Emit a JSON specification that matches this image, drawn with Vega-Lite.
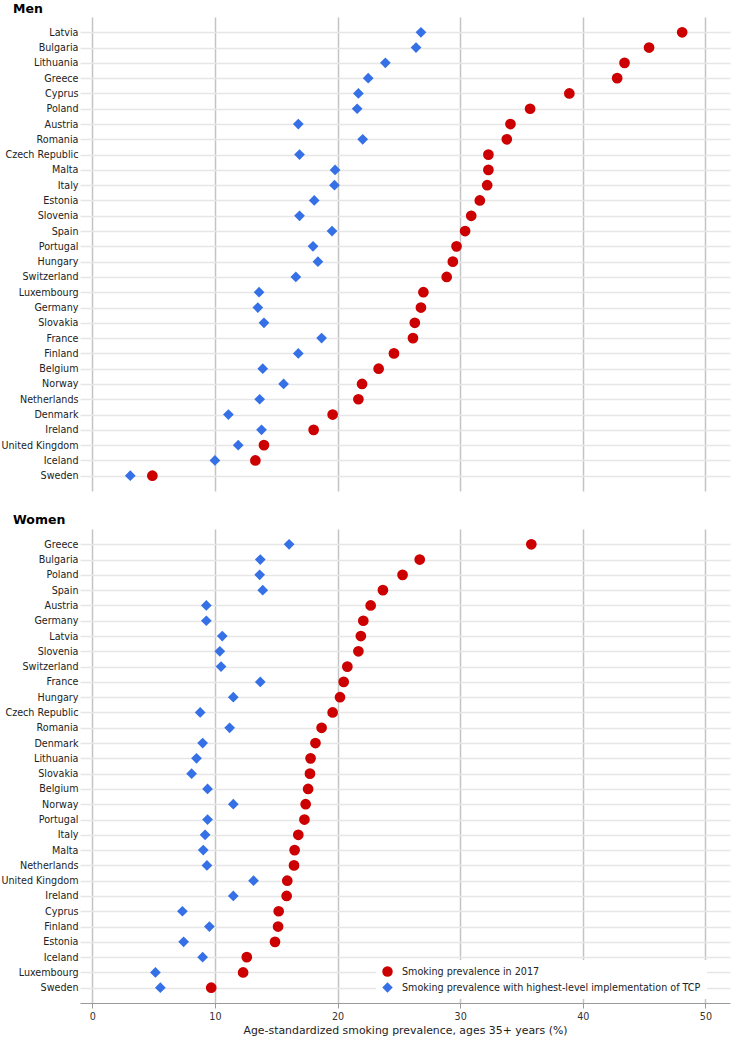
{
  "$schema": "https://vega.github.io/schema/vega-lite/v6.json",
  "padding": {"left": 0, "top": 2, "right": 2, "bottom": 0},
  "background": "white",
  "config": {
    "view": {"stroke": null},
    "font": "DejaVu Sans",
    "axis": {"labelFont": "DejaVu Sans", "titleFont": "DejaVu Sans"},
    "title": {"font": "DejaVu Sans"}
  },
  "datasets": {
    "prev": [
      {"sex": "Men", "country": "Latvia", "measure": "Smoking prevalence in 2017", "value": 48.1},
      {"sex": "Men", "country": "Bulgaria", "measure": "Smoking prevalence in 2017", "value": 45.4},
      {"sex": "Men", "country": "Lithuania", "measure": "Smoking prevalence in 2017", "value": 43.4},
      {"sex": "Men", "country": "Greece", "measure": "Smoking prevalence in 2017", "value": 42.8},
      {"sex": "Men", "country": "Cyprus", "measure": "Smoking prevalence in 2017", "value": 38.9},
      {"sex": "Men", "country": "Poland", "measure": "Smoking prevalence in 2017", "value": 35.7},
      {"sex": "Men", "country": "Austria", "measure": "Smoking prevalence in 2017", "value": 34.1},
      {"sex": "Men", "country": "Romania", "measure": "Smoking prevalence in 2017", "value": 33.8},
      {"sex": "Men", "country": "Czech Republic", "measure": "Smoking prevalence in 2017", "value": 32.3},
      {"sex": "Men", "country": "Malta", "measure": "Smoking prevalence in 2017", "value": 32.3},
      {"sex": "Men", "country": "Italy", "measure": "Smoking prevalence in 2017", "value": 32.2},
      {"sex": "Men", "country": "Estonia", "measure": "Smoking prevalence in 2017", "value": 31.6},
      {"sex": "Men", "country": "Slovenia", "measure": "Smoking prevalence in 2017", "value": 30.9},
      {"sex": "Men", "country": "Spain", "measure": "Smoking prevalence in 2017", "value": 30.4},
      {"sex": "Men", "country": "Portugal", "measure": "Smoking prevalence in 2017", "value": 29.7},
      {"sex": "Men", "country": "Hungary", "measure": "Smoking prevalence in 2017", "value": 29.4},
      {"sex": "Men", "country": "Switzerland", "measure": "Smoking prevalence in 2017", "value": 28.9},
      {"sex": "Men", "country": "Luxembourg", "measure": "Smoking prevalence in 2017", "value": 27.0},
      {"sex": "Men", "country": "Germany", "measure": "Smoking prevalence in 2017", "value": 26.8},
      {"sex": "Men", "country": "Slovakia", "measure": "Smoking prevalence in 2017", "value": 26.3},
      {"sex": "Men", "country": "France", "measure": "Smoking prevalence in 2017", "value": 26.15},
      {"sex": "Men", "country": "Finland", "measure": "Smoking prevalence in 2017", "value": 24.6},
      {"sex": "Men", "country": "Belgium", "measure": "Smoking prevalence in 2017", "value": 23.35},
      {"sex": "Men", "country": "Norway", "measure": "Smoking prevalence in 2017", "value": 22.0},
      {"sex": "Men", "country": "Netherlands", "measure": "Smoking prevalence in 2017", "value": 21.7},
      {"sex": "Men", "country": "Denmark", "measure": "Smoking prevalence in 2017", "value": 19.6},
      {"sex": "Men", "country": "Ireland", "measure": "Smoking prevalence in 2017", "value": 18.05},
      {"sex": "Men", "country": "United Kingdom", "measure": "Smoking prevalence in 2017", "value": 14.0},
      {"sex": "Men", "country": "Iceland", "measure": "Smoking prevalence in 2017", "value": 13.3},
      {"sex": "Men", "country": "Sweden", "measure": "Smoking prevalence in 2017", "value": 4.9},
      {"sex": "Men", "country": "Latvia", "measure": "Smoking prevalence with highest-level implementation of TCP", "value": 26.8},
      {"sex": "Men", "country": "Bulgaria", "measure": "Smoking prevalence with highest-level implementation of TCP", "value": 26.4},
      {"sex": "Men", "country": "Lithuania", "measure": "Smoking prevalence with highest-level implementation of TCP", "value": 23.9},
      {"sex": "Men", "country": "Greece", "measure": "Smoking prevalence with highest-level implementation of TCP", "value": 22.5},
      {"sex": "Men", "country": "Cyprus", "measure": "Smoking prevalence with highest-level implementation of TCP", "value": 21.7},
      {"sex": "Men", "country": "Poland", "measure": "Smoking prevalence with highest-level implementation of TCP", "value": 21.6},
      {"sex": "Men", "country": "Austria", "measure": "Smoking prevalence with highest-level implementation of TCP", "value": 16.8},
      {"sex": "Men", "country": "Romania", "measure": "Smoking prevalence with highest-level implementation of TCP", "value": 22.05},
      {"sex": "Men", "country": "Czech Republic", "measure": "Smoking prevalence with highest-level implementation of TCP", "value": 16.9},
      {"sex": "Men", "country": "Malta", "measure": "Smoking prevalence with highest-level implementation of TCP", "value": 19.8},
      {"sex": "Men", "country": "Italy", "measure": "Smoking prevalence with highest-level implementation of TCP", "value": 19.75},
      {"sex": "Men", "country": "Estonia", "measure": "Smoking prevalence with highest-level implementation of TCP", "value": 18.1},
      {"sex": "Men", "country": "Slovenia", "measure": "Smoking prevalence with highest-level implementation of TCP", "value": 16.9},
      {"sex": "Men", "country": "Spain", "measure": "Smoking prevalence with highest-level implementation of TCP", "value": 19.55},
      {"sex": "Men", "country": "Portugal", "measure": "Smoking prevalence with highest-level implementation of TCP", "value": 18.0},
      {"sex": "Men", "country": "Hungary", "measure": "Smoking prevalence with highest-level implementation of TCP", "value": 18.4},
      {"sex": "Men", "country": "Switzerland", "measure": "Smoking prevalence with highest-level implementation of TCP", "value": 16.6},
      {"sex": "Men", "country": "Luxembourg", "measure": "Smoking prevalence with highest-level implementation of TCP", "value": 13.6},
      {"sex": "Men", "country": "Germany", "measure": "Smoking prevalence with highest-level implementation of TCP", "value": 13.5},
      {"sex": "Men", "country": "Slovakia", "measure": "Smoking prevalence with highest-level implementation of TCP", "value": 14.0},
      {"sex": "Men", "country": "France", "measure": "Smoking prevalence with highest-level implementation of TCP", "value": 18.7},
      {"sex": "Men", "country": "Finland", "measure": "Smoking prevalence with highest-level implementation of TCP", "value": 16.8},
      {"sex": "Men", "country": "Belgium", "measure": "Smoking prevalence with highest-level implementation of TCP", "value": 13.9},
      {"sex": "Men", "country": "Norway", "measure": "Smoking prevalence with highest-level implementation of TCP", "value": 15.6},
      {"sex": "Men", "country": "Netherlands", "measure": "Smoking prevalence with highest-level implementation of TCP", "value": 13.65},
      {"sex": "Men", "country": "Denmark", "measure": "Smoking prevalence with highest-level implementation of TCP", "value": 11.1},
      {"sex": "Men", "country": "Ireland", "measure": "Smoking prevalence with highest-level implementation of TCP", "value": 13.8},
      {"sex": "Men", "country": "United Kingdom", "measure": "Smoking prevalence with highest-level implementation of TCP", "value": 11.9},
      {"sex": "Men", "country": "Iceland", "measure": "Smoking prevalence with highest-level implementation of TCP", "value": 10.0},
      {"sex": "Men", "country": "Sweden", "measure": "Smoking prevalence with highest-level implementation of TCP", "value": 3.1},
      {"sex": "Women", "country": "Greece", "measure": "Smoking prevalence in 2017", "value": 35.8},
      {"sex": "Women", "country": "Bulgaria", "measure": "Smoking prevalence in 2017", "value": 26.7},
      {"sex": "Women", "country": "Poland", "measure": "Smoking prevalence in 2017", "value": 25.3},
      {"sex": "Women", "country": "Spain", "measure": "Smoking prevalence in 2017", "value": 23.7},
      {"sex": "Women", "country": "Austria", "measure": "Smoking prevalence in 2017", "value": 22.7},
      {"sex": "Women", "country": "Germany", "measure": "Smoking prevalence in 2017", "value": 22.1},
      {"sex": "Women", "country": "Latvia", "measure": "Smoking prevalence in 2017", "value": 21.9},
      {"sex": "Women", "country": "Slovenia", "measure": "Smoking prevalence in 2017", "value": 21.7},
      {"sex": "Women", "country": "Switzerland", "measure": "Smoking prevalence in 2017", "value": 20.8},
      {"sex": "Women", "country": "France", "measure": "Smoking prevalence in 2017", "value": 20.5},
      {"sex": "Women", "country": "Hungary", "measure": "Smoking prevalence in 2017", "value": 20.2},
      {"sex": "Women", "country": "Czech Republic", "measure": "Smoking prevalence in 2017", "value": 19.6},
      {"sex": "Women", "country": "Romania", "measure": "Smoking prevalence in 2017", "value": 18.7},
      {"sex": "Women", "country": "Denmark", "measure": "Smoking prevalence in 2017", "value": 18.2},
      {"sex": "Women", "country": "Lithuania", "measure": "Smoking prevalence in 2017", "value": 17.8},
      {"sex": "Women", "country": "Slovakia", "measure": "Smoking prevalence in 2017", "value": 17.75},
      {"sex": "Women", "country": "Belgium", "measure": "Smoking prevalence in 2017", "value": 17.6},
      {"sex": "Women", "country": "Norway", "measure": "Smoking prevalence in 2017", "value": 17.4},
      {"sex": "Women", "country": "Portugal", "measure": "Smoking prevalence in 2017", "value": 17.3},
      {"sex": "Women", "country": "Italy", "measure": "Smoking prevalence in 2017", "value": 16.8},
      {"sex": "Women", "country": "Malta", "measure": "Smoking prevalence in 2017", "value": 16.5},
      {"sex": "Women", "country": "Netherlands", "measure": "Smoking prevalence in 2017", "value": 16.45},
      {"sex": "Women", "country": "United Kingdom", "measure": "Smoking prevalence in 2017", "value": 15.9},
      {"sex": "Women", "country": "Ireland", "measure": "Smoking prevalence in 2017", "value": 15.85},
      {"sex": "Women", "country": "Cyprus", "measure": "Smoking prevalence in 2017", "value": 15.2},
      {"sex": "Women", "country": "Finland", "measure": "Smoking prevalence in 2017", "value": 15.15},
      {"sex": "Women", "country": "Estonia", "measure": "Smoking prevalence in 2017", "value": 14.9},
      {"sex": "Women", "country": "Iceland", "measure": "Smoking prevalence in 2017", "value": 12.6},
      {"sex": "Women", "country": "Luxembourg", "measure": "Smoking prevalence in 2017", "value": 12.3},
      {"sex": "Women", "country": "Sweden", "measure": "Smoking prevalence in 2017", "value": 9.7},
      {"sex": "Women", "country": "Greece", "measure": "Smoking prevalence with highest-level implementation of TCP", "value": 16.05},
      {"sex": "Women", "country": "Bulgaria", "measure": "Smoking prevalence with highest-level implementation of TCP", "value": 13.7},
      {"sex": "Women", "country": "Poland", "measure": "Smoking prevalence with highest-level implementation of TCP", "value": 13.65},
      {"sex": "Women", "country": "Spain", "measure": "Smoking prevalence with highest-level implementation of TCP", "value": 13.9},
      {"sex": "Women", "country": "Austria", "measure": "Smoking prevalence with highest-level implementation of TCP", "value": 9.3},
      {"sex": "Women", "country": "Germany", "measure": "Smoking prevalence with highest-level implementation of TCP", "value": 9.3},
      {"sex": "Women", "country": "Latvia", "measure": "Smoking prevalence with highest-level implementation of TCP", "value": 10.6},
      {"sex": "Women", "country": "Slovenia", "measure": "Smoking prevalence with highest-level implementation of TCP", "value": 10.4},
      {"sex": "Women", "country": "Switzerland", "measure": "Smoking prevalence with highest-level implementation of TCP", "value": 10.5},
      {"sex": "Women", "country": "France", "measure": "Smoking prevalence with highest-level implementation of TCP", "value": 13.7},
      {"sex": "Women", "country": "Hungary", "measure": "Smoking prevalence with highest-level implementation of TCP", "value": 11.5},
      {"sex": "Women", "country": "Czech Republic", "measure": "Smoking prevalence with highest-level implementation of TCP", "value": 8.8},
      {"sex": "Women", "country": "Romania", "measure": "Smoking prevalence with highest-level implementation of TCP", "value": 11.2},
      {"sex": "Women", "country": "Denmark", "measure": "Smoking prevalence with highest-level implementation of TCP", "value": 9.0},
      {"sex": "Women", "country": "Lithuania", "measure": "Smoking prevalence with highest-level implementation of TCP", "value": 8.5},
      {"sex": "Women", "country": "Slovakia", "measure": "Smoking prevalence with highest-level implementation of TCP", "value": 8.1},
      {"sex": "Women", "country": "Belgium", "measure": "Smoking prevalence with highest-level implementation of TCP", "value": 9.4},
      {"sex": "Women", "country": "Norway", "measure": "Smoking prevalence with highest-level implementation of TCP", "value": 11.5},
      {"sex": "Women", "country": "Portugal", "measure": "Smoking prevalence with highest-level implementation of TCP", "value": 9.4},
      {"sex": "Women", "country": "Italy", "measure": "Smoking prevalence with highest-level implementation of TCP", "value": 9.2},
      {"sex": "Women", "country": "Malta", "measure": "Smoking prevalence with highest-level implementation of TCP", "value": 9.05},
      {"sex": "Women", "country": "Netherlands", "measure": "Smoking prevalence with highest-level implementation of TCP", "value": 9.35},
      {"sex": "Women", "country": "United Kingdom", "measure": "Smoking prevalence with highest-level implementation of TCP", "value": 13.15},
      {"sex": "Women", "country": "Ireland", "measure": "Smoking prevalence with highest-level implementation of TCP", "value": 11.5},
      {"sex": "Women", "country": "Cyprus", "measure": "Smoking prevalence with highest-level implementation of TCP", "value": 7.35},
      {"sex": "Women", "country": "Finland", "measure": "Smoking prevalence with highest-level implementation of TCP", "value": 9.55},
      {"sex": "Women", "country": "Estonia", "measure": "Smoking prevalence with highest-level implementation of TCP", "value": 7.45},
      {"sex": "Women", "country": "Iceland", "measure": "Smoking prevalence with highest-level implementation of TCP", "value": 9.0},
      {"sex": "Women", "country": "Luxembourg", "measure": "Smoking prevalence with highest-level implementation of TCP", "value": 5.15},
      {"sex": "Women", "country": "Sweden", "measure": "Smoking prevalence with highest-level implementation of TCP", "value": 5.55}
    ]
  },
  "spacing": 22,
  "resolve": {"legend": {"color": "independent", "shape": "independent"}},
  "vconcat": [
    {
      "width": 650,
      "height": 474,
      "title": {"text": "Men", "anchor": "start", "fontSize": 12.5, "fontWeight": "bold", "color": "#000000", "dx": 12, "offset": 2},
      "data": {"name": "prev"},
      "transform": [{"filter": "datum.sex === 'Men'"}],
      "mark": {"type": "point", "filled": true, "opacity": 1, "size": 115},
      "encoding": {
        "x": {
          "field": "value", "type": "quantitative",
          "scale": {"domain": [-1, 52], "nice": false, "zero": false},
          "axis": {"values": [0, 10, 20, 30, 40, 50], "labels": false, "ticks": false, "domain": false, "title": null, "grid": true, "gridColor": "#c4c4c4", "gridWidth": 1.5}
        },
        "y": {
          "field": "country", "type": "nominal",
          "sort": ["Latvia", "Bulgaria", "Lithuania", "Greece", "Cyprus", "Poland", "Austria", "Romania", "Czech Republic", "Malta", "Italy", "Estonia", "Slovenia", "Spain", "Portugal", "Hungary", "Switzerland", "Luxembourg", "Germany", "Slovakia", "France", "Finland", "Belgium", "Norway", "Netherlands", "Denmark", "Ireland", "United Kingdom", "Iceland", "Sweden"],
          "scale": {"type": "point", "padding": 1},
          "axis": {"title": null, "ticks": false, "domain": false, "grid": true, "gridColor": "#e6e6e6", "gridWidth": 1.5, "labelFontSize": 9.6, "labelColor": "#222222", "labelPadding": 2, "labelLimit": 200}
        },
        "color": {
          "field": "measure", "type": "nominal",
          "scale": {"domain": ["Smoking prevalence in 2017", "Smoking prevalence with highest-level implementation of TCP"], "range": ["#cc0000", "#3570e6"]},
          "legend": null
        },
        "shape": {
          "field": "measure", "type": "nominal",
          "scale": {"domain": ["Smoking prevalence in 2017", "Smoking prevalence with highest-level implementation of TCP"], "range": ["circle", "diamond"]},
          "legend": null
        }
      }
    },
    {
      "width": 650,
      "height": 474,
      "title": {"text": "Women", "anchor": "start", "fontSize": 12.5, "fontWeight": "bold", "color": "#000000", "dx": 12, "offset": 3},
      "data": {"name": "prev"},
      "transform": [{"filter": "datum.sex === 'Women'"}],
      "mark": {"type": "point", "filled": true, "opacity": 1, "size": 115},
      "encoding": {
        "x": {
          "field": "value", "type": "quantitative",
          "scale": {"domain": [-1, 52], "nice": false, "zero": false},
          "axis": {"values": [0, 10, 20, 30, 40, 50], "title": "Age-standardized smoking prevalence, ages 35+ years (%)", "titleFontSize": 10.9, "titleFontWeight": "normal", "titleColor": "#222222", "titlePadding": 4, "labelFontSize": 9.6, "labelColor": "#333333", "labelPadding": 3, "tickSize": 5, "tickColor": "#999999", "domainColor": "#999999", "grid": true, "gridColor": "#c4c4c4", "gridWidth": 1.5}
        },
        "y": {
          "field": "country", "type": "nominal",
          "sort": ["Greece", "Bulgaria", "Poland", "Spain", "Austria", "Germany", "Latvia", "Slovenia", "Switzerland", "France", "Hungary", "Czech Republic", "Romania", "Denmark", "Lithuania", "Slovakia", "Belgium", "Norway", "Portugal", "Italy", "Malta", "Netherlands", "United Kingdom", "Ireland", "Cyprus", "Finland", "Estonia", "Iceland", "Luxembourg", "Sweden"],
          "scale": {"type": "point", "padding": 1},
          "axis": {"title": null, "ticks": false, "domain": false, "grid": true, "gridColor": "#e6e6e6", "gridWidth": 1.5, "labelFontSize": 9.6, "labelColor": "#222222", "labelPadding": 2, "labelLimit": 200}
        },
        "color": {
          "field": "measure", "type": "nominal",
          "scale": {"domain": ["Smoking prevalence in 2017", "Smoking prevalence with highest-level implementation of TCP"], "range": ["#cc0000", "#3570e6"]},
          "legend": {"title": null, "orient": "none", "legendX": 296, "legendY": 431, "fillColor": "white", "padding": 6, "labelFontSize": 9.6, "labelColor": "#222222", "labelOffset": 9, "labelLimit": 400, "symbolSize": 110, "rowPadding": 5, "symbolStrokeWidth": 0}
        },
        "shape": {
          "field": "measure", "type": "nominal",
          "scale": {"domain": ["Smoking prevalence in 2017", "Smoking prevalence with highest-level implementation of TCP"], "range": ["circle", "diamond"]},
          "legend": {"title": null, "orient": "none", "legendX": 296, "legendY": 431, "fillColor": "white", "padding": 6, "labelFontSize": 9.6, "labelColor": "#222222", "labelOffset": 9, "labelLimit": 400, "symbolSize": 110, "rowPadding": 5, "symbolStrokeWidth": 0}
        }
      }
    }
  ]
}
